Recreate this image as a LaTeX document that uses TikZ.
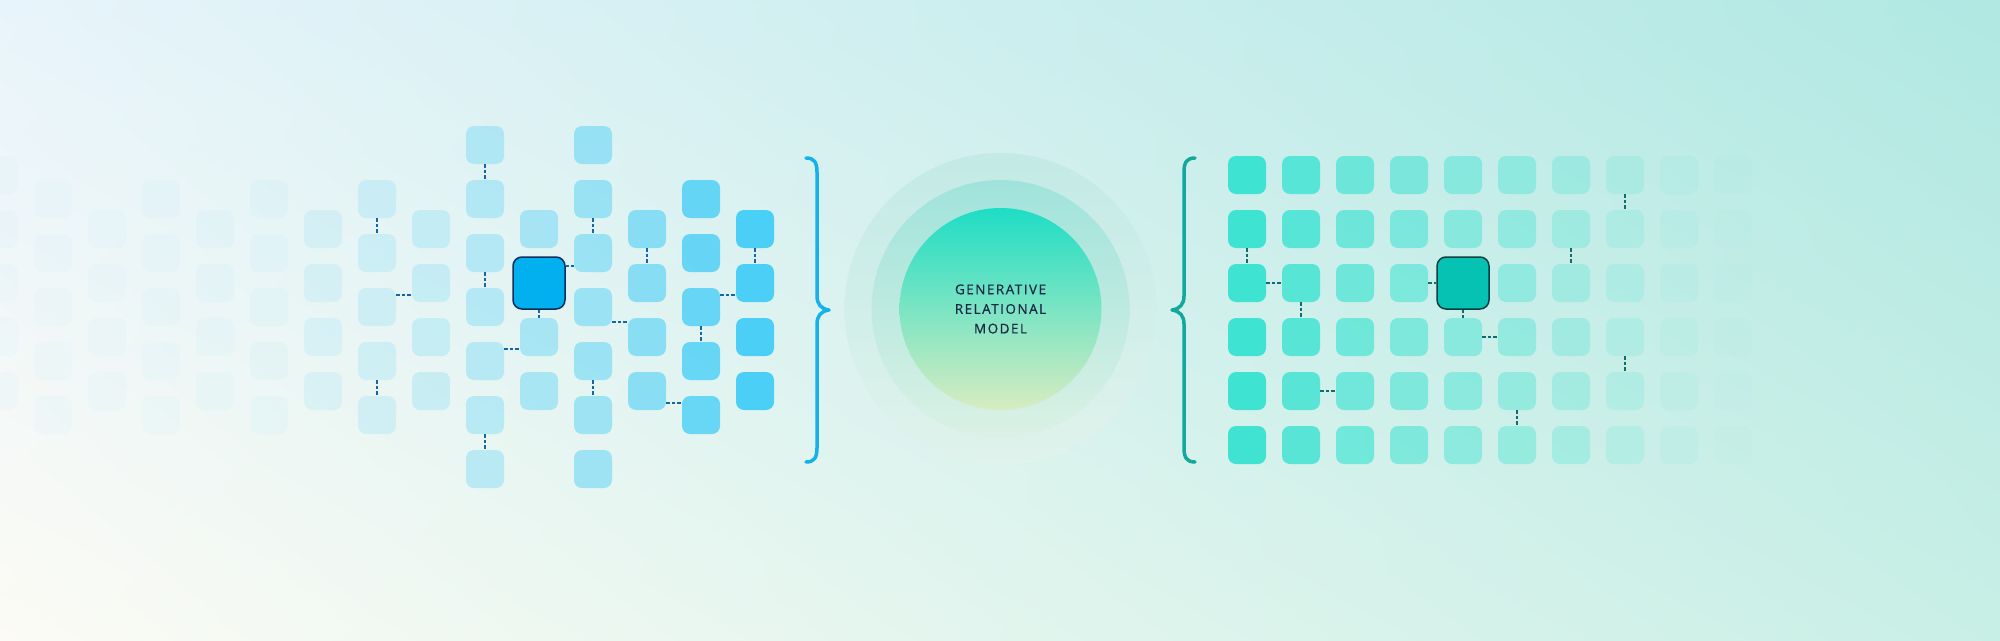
\documentclass[tikz,border=0pt]{standalone}
\usepackage{fontspec}
\newfontfamily\grmfont[LetterSpace=11, FakeBold=0.5]{Open Sans}
\usetikzlibrary{shadings}
\definecolor{bgtl}{HTML}{E8F4FB}
\definecolor{bgtr}{HTML}{B0E8E2}
\definecolor{bgbl}{HTML}{FCFBF5}
\definecolor{bgbr}{HTML}{C8EFE6}
\definecolor{leftcyan}{HTML}{1EC4F8}
\definecolor{leftlink}{HTML}{1466A8}
\definecolor{leftbig}{HTML}{02AFEF}
\definecolor{leftedge}{HTML}{0E2F5C}
\definecolor{rightaqua}{HTML}{30E2CF}
\definecolor{rightlink}{HTML}{0D6E6C}
\definecolor{rightbig}{HTML}{06C2B3}
\definecolor{rightedge}{HTML}{0B3E44}
\definecolor{bracecyan}{HTML}{14B1EA}
\definecolor{braceteal}{HTML}{12A89C}
\definecolor{halotop}{HTML}{C3EAE6}
\definecolor{halobottom}{HTML}{E0F3EC}
\definecolor{ringtop}{HTML}{A0E3DB}
\definecolor{ringbottom}{HTML}{DBF1E5}
\definecolor{coretop}{HTML}{1EDDC5}
\definecolor{coremid}{HTML}{62DEC5}
\definecolor{corebottom}{HTML}{D8ECC1}
\definecolor{inktext}{HTML}{1B2744}
\begin{document}
\begin{tikzpicture}[
    x=1pt, y=-1pt,
    tile/.style = {rounded corners=8pt, minimum size=38pt, inner sep=0pt},
    bigtile/.style = {rounded corners=9pt, minimum size=52pt, inner sep=0pt, line width=1.5pt},
    link/.style = {line width=2pt, dash pattern=on 3.5pt off 2pt},
    brace/.style = {line width=3.5pt, line cap=round, line join=round}
  ]
  \useasboundingbox (0,0) rectangle (2000,640);
  \clip (0,0) rectangle (2000,640);
  \shade[upper left=bgtl, upper right=bgtr, lower left=bgbl, lower right=bgbr] (0,0) rectangle (2000,640);

  % input side
  \foreach \c/\x/\op/\rows in {
      1/-1/0.025/{175,229,283,337,391},
      2/53/0.025/{199,253,307,361,415},
      3/107/0.025/{229,283,337,391},
      4/161/0.028/{199,253,307,361,415},
      5/215/0.03/{229,283,337,391},
      6/269/0.035/{199,253,307,361,415},
      7/323/0.09/{229,283,337,391},
      8/377/0.13/{199,253,307,361,415},
      9/431/0.16/{229,283,337,391},
      10/485/0.24/{145,199,253,307,361,415,469},
      11/539/0.3/{229,337,391},
      12/593/0.36/{145,199,253,307,361,415,469},
      13/647/0.45/{229,283,337,391},
      14/701/0.62/{199,253,307,361,415},
      15/755/0.76/{229,283,337,391}}
  {
    \foreach \y in \rows
      \node[tile, fill=leftcyan, fill opacity=\op] (l\c-\y) at (\x,\y) {};
  }
  \node[bigtile, fill=leftbig, draw=leftedge] (lbig) at (539,283) {};

  \foreach \a/\b in {l8-199/l8-253, l8-361/l8-415, l10-145/l10-199, l10-253/l10-307,
      l10-415/l10-469, lbig/l11-337, l12-199/l12-253, l12-361/l12-415,
      l13-229/l13-283, l14-307/l14-361, l15-229/l15-283}
    \draw[link, leftlink] (\a) -- (\b);
  \foreach \a/\b/\y in {l8-307/l9-283/295, l10-361/l11-337/349, lbig/l12-253/266,
      l12-307/l13-337/322, l13-391/l14-415/403, l14-307/l15-283/295}
    \draw[link, leftlink] (\a.east |- 0,\y) -- (\b.west |- 0,\y);

  \draw[brace, bracecyan] (806,158) .. controls (814,158) and (817,162) .. (817,172) -- (817,296)
    .. controls (817,304) and (821,309) .. (829,310) .. controls (821,311) and (817,316) .. (817,324)
    -- (817,448) .. controls (817,458) and (814,462) .. (806,462);

  % model
  \node[circle, minimum size=312pt, top color=halotop, bottom color=halobottom] (halo) at (1000.5,309) {};
  \node[circle, minimum size=258pt, top color=ringtop, bottom color=ringbottom] (ring) at (1000.5,309) {};
  \node[circle, minimum size=202pt, top color=coretop, middle color=coremid, bottom color=corebottom] (core) at (1000.5,309) {};
  \node[text=inktext, font=\grmfont\fontsize{13.5}{19.6}\selectfont, align=center] (grm) at (1000.5,309) {GENERATIVE\\RELATIONAL\\MODEL};

  \draw[brace, braceteal] (1195,158) .. controls (1187,158) and (1184,162) .. (1184,172) -- (1184,296)
    .. controls (1184,304) and (1180,309) .. (1172,310) .. controls (1180,311) and (1184,316) .. (1184,324)
    -- (1184,448) .. controls (1184,458) and (1187,462) .. (1195,462);

  % output side
  \foreach \j/\op in {1/0.9, 2/0.75, 3/0.6, 4/0.5, 5/0.42, 6/0.35, 7/0.25, 8/0.15, 9/0.06, 10/0.02}
  {
    \foreach \k in {1,...,6}
    {
      \ifnum\j\k=53\relax\else
        \node[tile, fill=rightaqua, fill opacity=\op] (r\j-\k) at ({1247+54*(\j-1)},{175+54*(\k-1)}) {};
      \fi
    }
  }
  \node[bigtile, fill=rightbig, draw=rightedge] (rbig) at (1463,283) {};

  \foreach \a/\b in {r1-2/r1-3, r1-3/r2-3, r2-3/r2-4, r2-5/r3-5, r4-3/rbig, rbig/r5-4,
      r5-4/r6-4, r6-5/r6-6, r7-2/r7-3, r8-1/r8-2, r8-4/r8-5}
    \draw[link, rightlink] (\a) -- (\b);
\end{tikzpicture}
\end{document}
